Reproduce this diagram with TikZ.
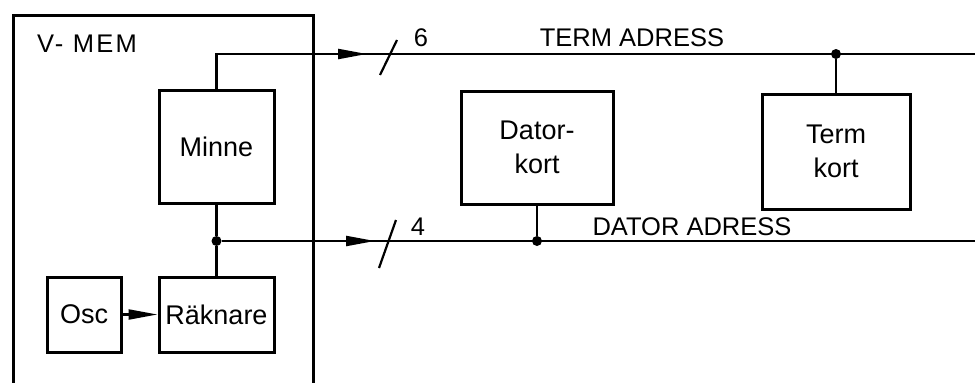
\documentclass[tikz,border=0pt]{standalone}
\usepackage{fontspec}
\setmainfont{Liberation Sans}
\usetikzlibrary{arrows.meta}
\begin{document}
\begin{tikzpicture}[x=1pt,y=-1pt,
  blk/.style={draw, line width=3pt, inner sep=0pt, align=center, font=\fontsize{27}{34}\selectfont},
  bus/.style={line width=2.2pt},
  lbl/.style={inner sep=0pt, font=\fontsize{25.5}{30}\selectfont},
  dot/.style={circle, fill, inner sep=0pt, minimum size=10pt},
  tip/.style={-{Triangle[length=29pt,width=10pt]}, line width=2.2pt}]
\useasboundingbox (0,0) rectangle (975,383);
% outer frame
\draw[line width=3pt] (13,390) -- (13,15) -- (313,15) -- (313,390);
\node[lbl] (vmem) at (87,44) {\addfontfeature{LetterSpace=9}V- MEM};
% blocks
\node[blk, minimum width=115pt, minimum height=113pt] (minne) at (216.5,146.5) {Minne};
\node[blk, minimum width=115pt, minimum height=75pt] (rak) at (216.5,314.5) {Räknare};
\node[blk, minimum width=74pt, minimum height=75pt] (osc) at (84,314.5) {Osc};
\node[blk, minimum width=152pt, minimum height=113pt] (dator) at (537,147.5) {Dator-\\kort};
\node[blk, minimum width=148pt, minimum height=115pt] (term) at (836,151.5) {Term\\kort};
% top bus
\coordinate (tA) at (minne.north |- 0,54);
\coordinate (tArr) at (367,54);
\coordinate (tEnd) at (985,54);
\draw[bus] (minne.north) -- (tA) -- (tEnd);
\draw[tip] (tA) -- (tArr);
\node[dot] (d2) at (term.north |- tA) {};
\draw[bus] (d2) -- (term.north);
\draw[bus] (380,75) -- (397,40);
\node[lbl] (six) at (421,38) {6};
\node[lbl] (tlabel) at (632,38) {TERM ADRESS};
% bottom bus
\node[dot] (d1) at (minne.south |- 0,241) {};
\coordinate (bArr) at (375,241);
\coordinate (bEnd) at (985,241);
\draw[bus] (minne.south) -- (d1) -- (rak.north);
\draw[bus] (d1) -- (bEnd);
\draw[tip] (d1) -- (bArr);
\node[dot] (d3) at (dator.south |- d1) {};
\draw[bus] (dator.south) -- (d3);
\draw[bus] (379,268) -- (396,220);
\node[lbl] (four) at (418,227) {4};
\node[lbl] (dlabel) at (692,227) {DATOR ADRESS};
% osc -> raknare
\draw[tip] (osc.east) -- (rak.west);
\end{tikzpicture}
\end{document}
